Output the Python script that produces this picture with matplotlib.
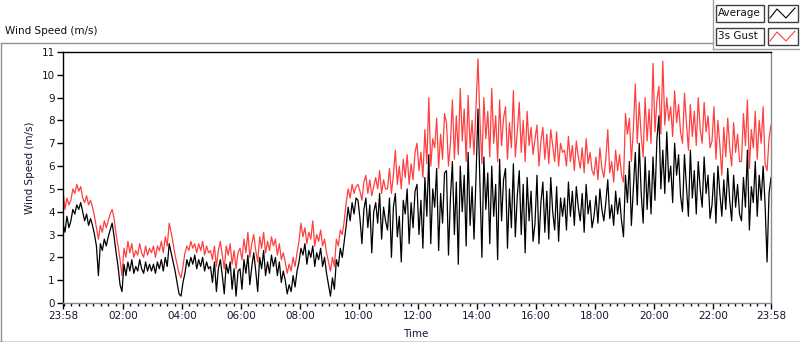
import numpy as np
import matplotlib
matplotlib.use("Agg")
import matplotlib.pyplot as plt
from matplotlib.patches import Rectangle

# one sample every 4 minutes, starting at 23:58 (15 samples per hour)
STEP_MIN = 4

avg_speed = [
    3.5, 3.1, 3.8, 3.3, 3.6, 4.1, 3.9, 4.3, 4.1, 4.4, 4.0, 3.6, 3.9, 3.4, 3.7,
    3.4, 3.0, 2.5, 1.2, 2.6, 2.3, 2.8, 2.5, 2.9, 3.2, 3.5, 2.9, 2.2, 1.6, 0.8,
    0.5, 1.7, 1.2, 1.8, 1.4, 1.9, 1.3, 1.6, 1.4, 1.9, 1.5, 1.3, 1.8, 1.4, 1.7,
    1.4, 1.7, 1.3, 1.8, 1.5, 1.9, 1.4, 2.0, 1.6, 2.6, 2.2, 1.8, 1.4, 0.9, 0.4,
    0.3, 0.9, 1.3, 1.9, 1.6, 2.0, 1.7, 2.1, 1.5, 1.9, 1.6, 2.0, 1.4, 1.8, 1.5,
    1.6, 0.9, 1.8, 0.5, 1.5, 1.9, 1.2, 0.4, 1.7, 1.3, 1.8, 0.6, 1.5, 0.3, 1.4,
    1.5, 0.6, 1.9, 1.3, 2.1, 0.8, 1.6, 2.2, 1.4, 0.5, 2.0, 1.5, 2.3, 1.2, 1.8,
    1.3, 2.1, 1.6, 2.0, 1.2, 1.8, 0.9, 1.4, 1.0, 0.4, 0.8, 0.5, 1.2, 0.7, 1.4,
    1.8, 2.4, 2.1, 2.6, 1.7, 2.3, 2.0, 2.5, 1.6, 2.2, 1.9, 2.4, 1.6, 2.0, 1.3,
    0.8, 0.3, 1.1, 0.6, 1.9, 1.6, 2.4, 2.0, 2.7, 3.4, 4.2, 3.6, 4.4, 3.9, 4.6,
    4.5, 3.7, 2.6, 4.1, 4.6, 3.3, 4.3, 2.2, 4.0, 4.4, 3.5, 4.8, 2.8, 4.2, 3.6,
    3.2, 4.6, 2.0, 4.2, 4.8, 2.9, 3.8, 1.8, 4.5, 3.9, 5.0, 2.6, 4.4, 3.3, 4.9,
    5.2, 3.0, 4.5, 2.4, 5.5, 3.8, 6.5, 2.6, 5.0, 4.2, 5.9, 2.3, 4.8, 3.5, 5.7,
    5.8, 2.1, 4.6, 6.2, 3.0, 5.3, 1.7, 6.0, 4.0, 5.6, 2.5, 6.6, 3.4, 5.1, 2.8,
    5.5, 8.5, 5.3, 2.0, 6.4, 4.1, 5.7, 2.6, 6.0, 3.8, 5.2, 1.9, 6.3, 3.6, 5.4,
    5.9, 2.4, 5.0, 3.3, 6.1, 2.9, 4.7, 5.8, 3.0, 5.2, 2.2, 5.5, 3.6, 4.9, 2.7,
    3.5, 5.6, 2.6, 4.4, 5.3, 3.1, 4.9, 2.8, 5.5, 4.0, 3.2, 5.1, 2.7, 4.6, 3.8,
    4.6, 3.2, 5.3, 3.8, 4.9, 3.4, 5.1, 4.2, 3.6, 4.8, 3.1, 5.2, 3.9, 4.5, 3.3,
    3.8, 4.7, 3.5, 5.0, 4.1, 3.6, 4.4, 5.4, 3.7, 4.3, 3.4, 4.9, 3.9, 4.6, 3.6,
    2.9, 5.6, 4.4, 6.2, 3.4, 5.0, 6.6, 4.3, 7.0, 4.8, 3.5, 6.4, 4.1, 5.8, 3.9,
    6.4, 4.5, 7.2, 8.2, 5.0, 6.7, 4.8, 7.5, 5.3, 6.0, 4.4, 7.0, 5.6, 6.5, 4.7,
    4.0, 6.5, 5.1, 3.8, 6.7, 4.6, 5.8, 3.9, 6.2, 5.0, 4.2, 6.4, 4.8, 5.6, 3.7,
    4.3, 5.7, 3.5, 6.0, 4.8, 3.8, 5.4, 4.1, 5.9, 4.5, 3.6, 5.6, 4.2, 5.2, 3.9,
    3.6, 5.5, 4.2, 6.7, 3.2, 5.1, 4.4, 6.2, 3.8, 5.6, 4.5, 6.0, 4.3, 1.8, 4.8,
    5.5,
]

gust_speed = [
    4.9, 4.1, 4.6, 4.3, 4.5, 5.0, 4.8, 5.2, 4.9, 5.1, 4.6, 4.4, 4.7, 4.3, 4.5,
    4.2, 3.8, 3.3, 2.8, 3.4, 3.1, 3.6, 3.3, 3.6, 3.9, 4.1, 3.7, 3.0, 2.5, 1.9,
    1.2, 2.4, 2.0, 2.7, 2.2, 2.6, 2.0, 2.3, 2.1, 2.6, 2.2, 2.0, 2.5, 2.1, 2.4,
    2.2, 2.5, 2.0, 2.5, 2.3, 2.7, 2.2, 2.9, 2.5, 3.5, 3.1, 2.6, 2.1, 1.7, 1.3,
    1.1, 1.6, 2.2, 2.5, 2.3, 2.7, 2.4, 2.6, 2.2, 2.6, 2.3, 2.7, 2.1, 2.5, 2.2,
    2.3, 1.9, 2.5, 1.6, 2.3, 2.7, 2.1, 1.5, 2.5, 2.1, 2.6, 1.7, 2.3, 1.5, 2.2,
    2.4, 1.9, 2.8, 2.2, 3.1, 2.0, 2.6, 3.0, 2.3, 1.8, 2.9, 2.4, 3.1, 2.2, 2.7,
    2.3, 2.9, 2.5, 2.8, 2.1, 2.6, 1.9, 2.2, 1.8, 1.3, 1.7, 1.4, 2.0, 1.6, 2.2,
    2.7, 3.5, 2.9, 3.3, 2.6, 3.1, 2.8, 3.6, 2.5, 3.0, 2.7, 3.2, 2.5, 2.8, 2.2,
    1.8, 1.4, 2.0, 1.6, 2.8, 2.5, 3.2, 3.0, 3.6, 4.4, 5.0, 4.6, 5.2, 4.8, 5.1,
    5.2, 4.9, 4.5, 5.3, 5.6, 4.8, 5.4, 4.7, 5.1, 5.5, 5.0, 5.8, 4.8, 5.4, 5.0,
    5.0, 5.9, 4.8, 5.6, 6.7, 5.2, 6.0, 5.0, 6.3, 5.5, 6.5, 5.2, 6.1, 5.4, 6.6,
    7.0, 5.8, 6.6, 5.5, 7.6, 6.1, 9.0, 6.0, 7.2, 6.8, 8.1, 5.9, 7.4, 6.3, 8.3,
    7.9, 6.0, 7.0, 8.9, 6.3, 8.2, 6.5, 9.4, 7.1, 8.5, 6.2, 9.1, 6.8, 8.0, 6.5,
    8.6, 10.7, 8.0, 6.1, 9.0, 7.2, 8.4, 6.4, 9.4, 7.0, 8.2, 6.2, 8.9, 6.9, 8.1,
    8.6, 6.3, 7.9, 6.8, 9.3, 6.4, 7.5, 8.8, 6.6, 8.0, 6.2, 8.4, 6.9, 7.7, 6.5,
    7.2, 7.8, 6.0, 7.1, 7.7, 6.3, 7.4, 6.1, 7.6, 6.9, 6.2, 7.5, 6.0, 7.0, 6.6,
    6.7, 6.0, 7.3, 6.2, 6.9, 5.8, 7.1, 6.4, 5.9, 6.8, 5.7, 7.2, 6.1, 6.6, 5.8,
    5.6, 6.4, 5.4, 6.8, 5.9, 5.5, 6.3, 7.6, 5.7, 6.2, 5.3, 6.7, 5.8, 6.5, 5.6,
    5.3, 8.3, 7.4, 8.1, 6.2, 7.6, 9.6, 7.0, 8.8, 7.3, 6.4, 9.0, 7.1, 8.5, 7.0,
    10.5, 7.5, 8.9, 9.5, 7.4, 10.6, 7.8, 9.0, 8.0, 8.6, 7.3, 9.3, 7.9, 8.7, 7.5,
    7.0, 9.2, 7.9, 6.7, 8.7, 7.3, 8.4, 6.9, 9.0, 7.6, 7.0, 8.8, 7.5, 8.2, 6.8,
    7.1, 8.6, 6.3, 8.0, 6.9, 5.6, 7.7, 6.4, 8.1, 6.8, 6.0, 7.9, 6.6, 7.4, 6.2,
    6.2, 8.3, 6.9, 8.9, 5.9, 7.6, 6.8, 8.4, 6.3, 8.0, 7.0, 8.6, 6.1, 5.8, 7.2,
    7.8,
]

tick_minutes = [0, 122, 242, 362, 482, 602, 722, 842, 962, 1082, 1202, 1322, 1440]
tick_labels = ["23:58", "02:00", "04:00", "06:00", "08:00", "10:00", "12:00",
               "14:00", "16:00", "18:00", "20:00", "22:00", "23:58"]
y_ticks = list(range(0, 12))

TEXT = "#161630"
FONT = "DejaVu Sans"

minutes = np.arange(len(avg_speed)) * STEP_MIN

fig = plt.figure(figsize=(8, 3.42), dpi=100)

# panel decorations drawn in pixel space
bg = fig.add_axes([0, 0, 1, 1])
bg.set_xlim(0, 800)
bg.set_ylim(342, 0)
bg.axis("off")
bg.plot([0.5, 712], [42.5, 42.5], color="#909090", lw=1)
bg.plot([0.5, 0.5], [42.5, 342], color="#909090", lw=1)
bg.plot([0, 800], [341.5, 341.5], color="#202020", lw=1)
bg.plot([712.5, 712.5], [0, 48.5], color="#a0a0a0", lw=1)
bg.plot([712.5, 800], [48.5, 48.5], color="#a0a0a0", lw=1)
bg.text(5, 31, "Wind Speed (m/s)", fontsize=7.5, family=FONT, color="#101010",
        va="center", ha="left")

# legend
for y0, name, col in [(4, "Average", "black"), (27, "3s Gust", "#ff4040")]:
    bg.add_patch(Rectangle((715.5, y0 + 0.5), 48, 17, fill=True, fc="white",
                           ec="#404040", lw=1))
    bg.text(718, y0 + 9, name, fontsize=7.5, family=FONT, color="#101010",
            va="center", ha="left")
    bg.add_patch(Rectangle((767.5, y0 + 0.5), 30, 17, fill=True, fc="white",
                           ec="#404040", lw=1))
    bg.plot([770, 777, 786, 795], [y0 + 14, y0 + 5, y0 + 14, y0 + 4],
            color=col, lw=0.8)

ax = fig.add_axes([63 / 800, 1 - 303 / 342, 708 / 800, 251 / 342])
ax.plot(minutes, gust_speed, color="#ff4040", lw=0.9)
ax.plot(minutes, avg_speed, color="black", lw=0.9)
ax.set_xlim(0, 1440)
ax.set_ylim(0, 11)

ax.set_xticks(tick_minutes)
ax.set_xticklabels(tick_labels)
ax.set_xticks(np.arange(2, 1440, 15), minor=True)
ax.set_yticks(y_ticks)
ax.tick_params(axis="both", which="major", length=4, width=1, color="black",
               labelsize=7.5, labelcolor=TEXT, pad=2)
ax.tick_params(axis="x", which="minor", length=2.5, width=1, color="black")
for lab in ax.get_xticklabels() + ax.get_yticklabels():
    lab.set_family(FONT)

ax.spines["left"].set_color("black")
ax.spines["top"].set_color("black")
ax.spines["right"].set_color("#8c8c8c")
ax.spines["bottom"].set_color("#8c8c8c")
for s in ax.spines.values():
    s.set_linewidth(1)

fig.text(416 / 800, 1 - 334 / 342, "Time", fontsize=7.5, family=FONT, color=TEXT,
         ha="center", va="center")
fig.text(30 / 800, 1 - 168 / 342, "Wind Speed (m/s)", fontsize=7.5, family=FONT,
         color=TEXT, rotation=90, ha="center", va="center")

fig.savefig("out.png", dpi=100)
